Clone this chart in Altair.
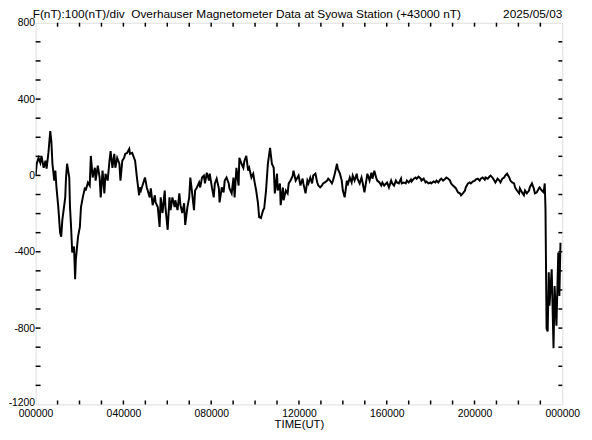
import altair as alt
import pandas as pd

# ---- data (minutes after 00:00 UT, total field minus 43000 nT) ----
min_a = [0,3,8,13,16,22,27,30,35,40,43,46,51,54,57,62,67,70,73,81,83,86,92,94,97,100,105,108,110,116,
         121,124,129,135,137,143,148,151,156,162,164,170,175,178,183,188,191,197,202,205,210,215,218,223,
         229,232,237,242,245,250,256,258,264,269,272,277,283,285]
val_a = [-1,61,92,66,102,40,77,35,118,232,180,61,-27,25,-63,-166,-301,-321,-234,-115,
         -17,61,-11,-166,-270,-404,-373,-544,-440,-321,-270,-166,-115,-63,-79,-37,-53,102,-11,40,
         -27,51,-11,-115,25,-94,9,-27,77,128,40,113,40,92,61,-27,77,92,113,118,139,113,118,92,77,-11,-104,-63]

min_b = [288,299,304,312,315,320,326,328,334,339,342,347,353,355,361,366,369,374,380,382,
         388,393,396,401,406,409,415,420,423,428,433,436,441,447,450,455,460,463,468,474,
         476,482,487,490,495,501,503,509,514,517,522,528,530,536,541,544,549,555,557,563,
         568,571,576,581,584,590,595,598,603,608,611,616,622]
val_b = [-79,-11,-63,-115,-68,-156,-104,-141,-166,-270,-115,-197,-79,-166,-285,-115,-182,-115,-166,-130,
         -182,-94,-156,-197,-146,-259,-166,-115,-11,-94,-182,-79,-63,-37,-63,-11,-1,-42,14,-27,
         9,-63,-115,-42,-17,-68,-141,-63,-89,-27,-11,-42,-68,-94,-11,-115,40,-53,92,61,
         40,77,102,25,40,-11,9,-27,-79,-146,-218,-223,-182]

min_c = [625,630,635,641,646,651,654,660,662,668,670,676,678,684,689,692,697,703,705,711,
         716,719,724,730,732,738,743,746,751,756,759,765,770,773,778,783,786,791,797,800,
         805,810,813,818,824,826,832,837,840,845,851,853,859,864,867,872,878,880,886,891,
         894,899,905,907,913,918,921,926,931,934,940,945,948]
val_c = [-172,-79,61,144,61,40,-94,9,-79,-42,-156,-63,-130,-79,-94,-42,-27,-1,25,-27,
         -11,-1,-53,-17,-42,-94,-27,-42,-11,-42,-1,9,-37,-53,-63,-53,-42,-37,-27,-17,
         -27,-42,-27,9,61,35,9,-27,-79,-115,-27,-53,-11,-37,-1,-27,9,-17,-42,-11,
         -37,-89,-17,9,-27,14,-17,25,-11,-27,-37,-53,-37]

min_d = [953,961,966,972,975,980,985,988,993,999,1001,1007,1012,1015,1020,1026,1028,1034,1039,1042,
         1047,1053,1055,1061,1066,1069,1074,1080,1082,1088,1093,1096,1101,1106,1109,1114,1120,1123,1128,1133,
         1136,1141,1147,1149,1155,1160,1163,1168,1174,1176,1182,1187,1190,1195,1201,1203,1209,1214,1217,1222,
         1228,1230,1236,1241,1244,1249,1254,1257,1263,1268,1271,1276,1281,1284,1289,1295,1298,1303,1308,1311,
         1316,1322,1324,1330,1335,1338,1343,1349,1351,1357,1362,1365,1370,1376,1378,1384,1389,1392,1394]
val_d = [-53,-37,-63,-27,-42,-53,-27,-37,-42,-17,-42,-37,-42,-27,-37,-22,-32,-17,-11,-17,
         -6,-17,-27,-17,-37,-32,-42,-37,-42,-32,-37,-27,-37,-22,-17,-27,-17,-11,-17,-27,
         -42,-53,-63,-68,-89,-94,-104,-94,-79,-63,-42,-37,-42,-32,-27,-22,-17,-27,-17,-11,
         -22,-11,-17,-6,-1,-11,-27,-37,-17,-27,-37,-17,-11,-1,9,-11,-27,-37,-42,-63,
         -79,-94,-68,-89,-104,-79,-94,-79,-63,-42,-68,-94,-89,-68,-63,-79,-89,-42,-172]

min_e = [1397,1400,1403,1405,1411,1416,1419,1424,1429,1432,1435]
val_e = [-802,-818,-508,-683,-492,-905,-580,-787,-404,-632,-353]

x_tick_minutes = [60 * h for h in range(1, 24)]
x_label_minutes = [0, 240, 480, 720, 960, 1200, 1440]
y_tick_values = list(range(-1100, 800, 100))
y_label_values = [-1200, -800, -400, 0, 400, 800]

title_text = "F(nT):100(nT)/div\u00a0 Overhauser Magnetometer Data at Syowa Station (+43000 nT)"
date_text = "2025/05/03"

W, H = 534, 387
FONT = "Liberation Sans"

df = pd.DataFrame({
    "minute": min_a + min_b + min_c + min_d + min_e,
    "F": val_a + val_b + val_c + val_d + val_e,
})

xscale = alt.Scale(domain=[0, 1440], nice=False, zero=False)
yscale = alt.Scale(domain=[-1200, 800], nice=False, zero=False)

line = alt.Chart(df).mark_line(color="black", strokeWidth=2, clip=True).encode(
    x=alt.X("minute:Q", scale=xscale,
            axis=alt.Axis(values=x_label_minutes, ticks=False, domain=False, grid=False,
                          labelExpr="format((datum.value % 1440) / 60 * 10000, '06d')",
                          labelFontSize=10.5, labelFont=FONT, labelColor="black",
                          labelPadding=4, labelFlush=False, labelOverlap=False,
                          title="TIME(UT)", titleFont=FONT, titleFontSize=11.5,
                          titleFontWeight="normal", titleColor="black",
                          titleBaseline="alphabetic", titleY=23)),
    y=alt.Y("F:Q", scale=yscale,
            axis=alt.Axis(values=y_label_values, ticks=False, domain=False, grid=False,
                          labelExpr="datum.value + ''",
                          labelOffset={"condition": {"test": "datum.value == -1200", "value": -2}, "value": 0},
                          labelFontSize=10.5, labelFont=FONT, labelColor="black",
                          labelPadding=1, labelFlush=False, labelOverlap=False, title=None)),
)

ytk = pd.DataFrame({"F": y_tick_values})
xtk = pd.DataFrame({"minute": x_tick_minutes})

left_ticks = alt.Chart(ytk).mark_rule(color="black", strokeWidth=1.5).encode(
    y=alt.Y("F:Q", scale=yscale), x=alt.value(0), x2=alt.value(5))
right_ticks = alt.Chart(ytk).mark_rule(color="black", strokeWidth=1.5).encode(
    y=alt.Y("F:Q", scale=yscale), x=alt.value(W - 4), x2=alt.value(W))
bottom_ticks = alt.Chart(xtk).mark_rule(color="black", strokeWidth=1.5).encode(
    x=alt.X("minute:Q", scale=xscale), y=alt.value(H - 4), y2=alt.value(H))
top_ticks = alt.Chart(xtk).mark_rule(color="black", strokeWidth=1.5).encode(
    x=alt.X("minute:Q", scale=xscale), y=alt.value(0), y2=alt.value(4))

title_mark = alt.Chart(pd.DataFrame({"t": [title_text]})).mark_text(
    align="left", baseline="alphabetic", font=FONT, fontSize=12, color="black"
).encode(text="t:N", x=alt.value(-3), y=alt.value(-5))
date_mark = alt.Chart(pd.DataFrame({"t": [date_text]})).mark_text(
    align="right", baseline="alphabetic", font=FONT, fontSize=12, color="black"
).encode(text="t:N", x=alt.value(W), y=alt.value(-5))

chart = alt.layer(line, left_ticks, right_ticks, bottom_ticks, top_ticks, title_mark, date_mark).properties(
    width=W, height=H,
    autosize=alt.AutoSizeParams(type="none"),
    padding={"left": 28, "top": 12, "right": 22, "bottom": 25},
).configure_view(stroke="black", strokeWidth=2).configure(background="white")

chart.save("out.html", embed_options={"renderer": "svg", "actions": False})
